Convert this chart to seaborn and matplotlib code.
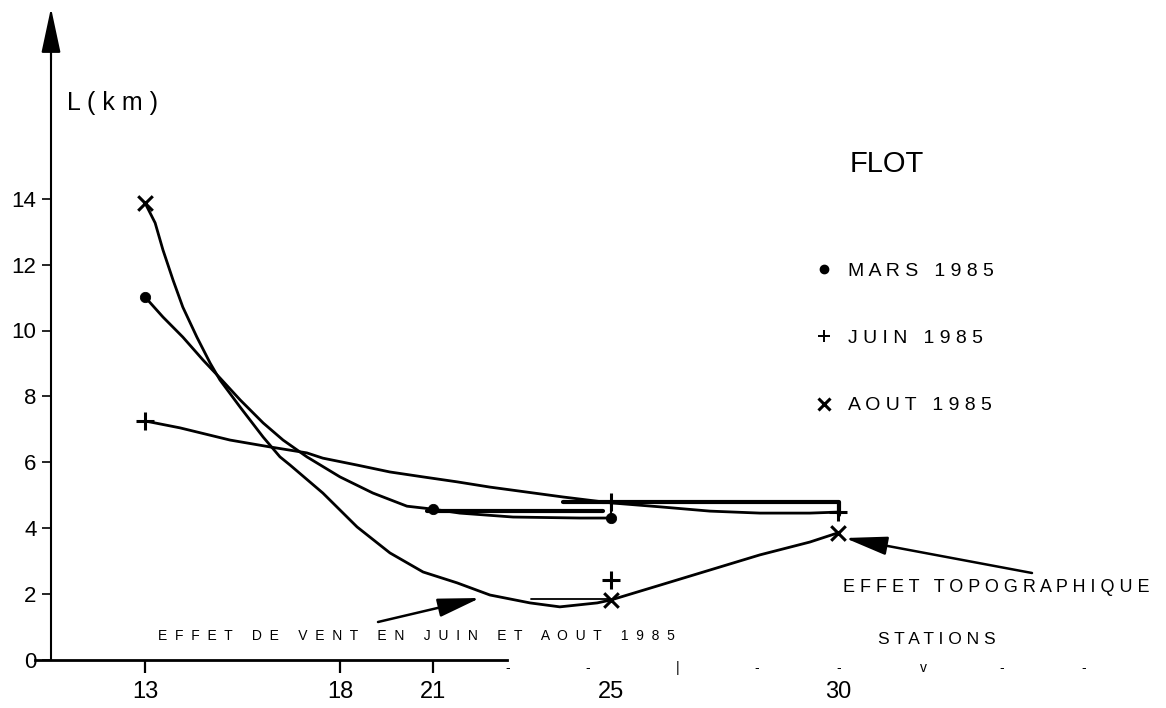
import numpy as np
import pandas as pd
import seaborn as sns
import matplotlib.pyplot as plt
from matplotlib.lines import Line2D

# ================= données =================
STATIONS = [13, 18, 21, 25, 30]
STATION_LABELS = ["13", "18", "21", "25", "30"]
Y_TICKS = [0, 2, 4, 6, 8, 10, 12, 14]

# points mesurés (FLOT)
MARS_ST = [13, 21, 25]
MARS_L = [11.02, 4.57, 4.3]
JUIN_ST = [13, 25, 30]
JUIN_L = [7.25, 4.79, 4.48]
JUIN_VENT_ST = [25]
JUIN_VENT_L = [2.42]
AOUT_ST = [13, 25, 30]
AOUT_L = [13.88, 1.81, 3.85]

# courbes tracées à la main (relevées le long du trait)
MARS_TRACE_ST = [13, 13.46, 13.97, 14.49, 14.92, 15.44, 16.03, 16.54, 17.15, 18.0,
                 19.06, 20.16, 21.0, 21.6, 22.8, 24.3, 25]
MARS_TRACE_L = [11.02, 10.41, 9.80, 9.10, 8.56, 7.89, 7.19, 6.67, 6.16, 5.55,
                5.06, 4.66, 4.57, 4.45, 4.33, 4.30, 4.30]
JUIN_TRACE_ST = [13, 13.90, 15.18, 16.21, 17.15, 17.56, 18.55, 19.61, 20.68, 21.54,
                 22.28, 23.92, 25, 26.08, 27.18, 28.28, 29.38, 30]
JUIN_TRACE_L = [7.25, 7.04, 6.67, 6.46, 6.28, 6.12, 5.91, 5.70, 5.55, 5.40,
                5.24, 4.94, 4.76, 4.64, 4.51, 4.45, 4.45, 4.48]
AOUT_TRACE_ST = [13, 13.26, 13.46, 13.72, 13.97, 14.33, 14.67, 14.92, 15.44, 16.03,
                 16.46, 16.72, 17.56, 18.55, 19.61, 20.68, 21.54, 22.28, 23.18, 23.85,
                 24.69, 25, 26.08, 27.18, 28.28, 29.38, 30]
AOUT_TRACE_L = [13.88, 13.27, 12.45, 11.53, 10.71, 9.80, 9.01, 8.50, 7.67, 6.76,
                6.16, 5.91, 5.06, 4.03, 3.24, 2.66, 2.33, 1.96, 1.72, 1.60,
                1.72, 1.81, 2.26, 2.72, 3.18, 3.57, 3.85]

# traits de reprise (crochets) dessinés sur l'original
MARS_BAR_ST = [20.81, 24.82]
MARS_BAR_L = [4.51, 4.51]
JUIN_BAR_ST = [23.92, 30.02, 30.02]
JUIN_BAR_L = [4.78, 4.78, 4.40]
JUIN_TICK_ST = [25, 25]
JUIN_TICK_L = [4.79, 4.30]
AOUT_BAR_ST = [23.2, 25]
AOUT_BAR_L = [1.84, 1.84]

LEGEND_LABELS = ["MARS 1985", "JUIN 1985", "AOUT 1985"]

# ================= mise en page =================
W, H = 1166, 708
# échelle des stations telle que dessinée (axe non proportionnel)
AXIS_PX = [145, 340, 433, 611, 838]
Y0_PX, PX_PER_KM = 659.5, 32.9


def fwd(s):
    s = np.asarray(s, dtype=float)
    out = np.interp(s, STATIONS, AXIS_PX)
    k0 = (AXIS_PX[1] - AXIS_PX[0]) / (STATIONS[1] - STATIONS[0])
    k1 = (AXIS_PX[-1] - AXIS_PX[-2]) / (STATIONS[-1] - STATIONS[-2])
    out = np.where(s < STATIONS[0], AXIS_PX[0] + (s - STATIONS[0]) * k0, out)
    out = np.where(s > STATIONS[-1], AXIS_PX[-1] + (s - STATIONS[-1]) * k1, out)
    return out


def inv(p):
    p = np.asarray(p, dtype=float)
    out = np.interp(p, AXIS_PX, STATIONS)
    k0 = (AXIS_PX[1] - AXIS_PX[0]) / (STATIONS[1] - STATIONS[0])
    k1 = (AXIS_PX[-1] - AXIS_PX[-2]) / (STATIONS[-1] - STATIONS[-2])
    out = np.where(p < AXIS_PX[0], STATIONS[0] + (p - AXIS_PX[0]) / k0, out)
    out = np.where(p > AXIS_PX[-1], STATIONS[-1] + (p - AXIS_PX[-1]) / k1, out)
    return out


def py2km(py):
    return (Y0_PX - py) / PX_PER_KM


def fig_xy(x, y):
    # pixels (origine en haut à gauche) -> fraction de figure
    return x / W, 1 - y / H


def spaced(s, n=1):
    return (" " * n).join(s)


sns.set_style("white", {"axes.edgecolor": "black", "xtick.color": "black",
                        "ytick.color": "black", "text.color": "black"})
plt.rcParams['font.family'] = ['Liberation Sans', 'DejaVu Sans']

fig = plt.figure(figsize=(W / 100, H / 100), dpi=100)
ax = fig.add_axes([0, 0, 1, 1])
ax.set_facecolor("white")
ax.set_xscale("function", functions=(fwd, inv))
ax.set_xlim(float(inv(0)), float(inv(W)))
ax.set_ylim(py2km(H), py2km(0))

# courbes
for st, l in [(MARS_TRACE_ST, MARS_TRACE_L), (JUIN_TRACE_ST, JUIN_TRACE_L),
              (AOUT_TRACE_ST, AOUT_TRACE_L)]:
    sns.lineplot(x=st, y=l, ax=ax, color="black", lw=2.0, sort=False,
                 estimator=None, legend=False)

# crochets
for st, l, w in [(MARS_BAR_ST, MARS_BAR_L, 3.0), (JUIN_BAR_ST, JUIN_BAR_L, 3.0),
                 (JUIN_TICK_ST, JUIN_TICK_L, 1.5), (AOUT_BAR_ST, AOUT_BAR_L, 1.3)]:
    sns.lineplot(x=st, y=l, ax=ax, color="black", lw=w, sort=False,
                 estimator=None, legend=False)

# points
sns.scatterplot(x=MARS_ST, y=MARS_L, ax=ax, marker="o", s=55, color="black",
                edgecolor="black", legend=False, zorder=5)
sns.scatterplot(x=JUIN_ST + JUIN_VENT_ST, y=JUIN_L + JUIN_VENT_L, ax=ax, marker="+",
                s=170, color="black", linewidth=2.2, legend=False, zorder=5)
sns.scatterplot(x=AOUT_ST, y=AOUT_L, ax=ax, marker="x", s=110, color="black",
                linewidth=2.2, legend=False, zorder=5)

# axes
yaxis_st = float(inv(51))
for side in ["top", "right"]:
    ax.spines[side].set_visible(False)
ax.spines["left"].set_position(("data", yaxis_st))
ax.spines["left"].set_bounds(0, py2km(40))
ax.spines["left"].set_linewidth(1.5)
ax.spines["bottom"].set_position(("data", 0))
ax.spines["bottom"].set_bounds(float(inv(35)), float(inv(507)))
ax.spines["bottom"].set_linewidth(2.0)

ax.set_yticks(Y_TICKS)
ax.set_yticklabels([str(v) for v in Y_TICKS])
ax.set_xticks(STATIONS)
ax.set_xticklabels(STATION_LABELS)
ax.xaxis.set_minor_locator(plt.NullLocator())
ax.tick_params(axis="y", left=True, direction="out", length=6.5, width=1.2,
               pad=4, labelsize=16)
ax.tick_params(axis="x", bottom=True, direction="out", length=9.5, width=1.6,
               pad=6, labelsize=17)
for tick in ax.xaxis.get_major_ticks()[3:]:
    tick.tick1line.set_visible(False)

# flèche de l'axe des L
ax.annotate("", xy=(yaxis_st, py2km(8)), xytext=(yaxis_st, py2km(60)),
            arrowprops=dict(arrowstyle="-|>,head_length=1.4,head_width=0.3",
                            mutation_scale=20, lw=1.5, color="black",
                            shrinkA=0, shrinkB=0))

# textes
fig.text(*fig_xy(67, 103), spaced("L(km)"), fontsize=18, va="center", ha="left")
fig.text(*fig_xy(850, 164), "FLOT", fontsize=21, va="center", ha="left")
fig.text(*fig_xy(843, 587), spaced("EFFET TOPOGRAPHIQUE"), fontsize=13,
         va="center", ha="left")
fig.text(*fig_xy(878, 639), spaced("STATIONS"), fontsize=12.5, va="center", ha="left")
fig.text(*fig_xy(158, 636), spaced("EFFET DE VENT EN JUIN ET AOUT 1985", 2),
         fontsize=10, va="center", ha="left")

# petits traits du prolongement de l'axe (reproduits tels quels)
for x, c in zip([508, 588, 678, 757, 839, 923, 1002, 1084],
                ["-", "-", "|", "-", "-", "v", "-", "-"]):
    fig.text(*fig_xy(x, 668), c, fontsize=10, va="center", ha="center")

# flèches d'annotation
ax.annotate("", xy=fig_xy(480, 598), xytext=fig_xy(378, 622),
            xycoords="figure fraction", textcoords="figure fraction",
            arrowprops=dict(arrowstyle="-|>,head_length=1.0,head_width=0.22",
                            mutation_scale=26, lw=1.8, color="black",
                            shrinkA=0, shrinkB=0))
ax.annotate("", xy=fig_xy(845, 538), xytext=fig_xy(1032, 573),
            xycoords="figure fraction", textcoords="figure fraction",
            arrowprops=dict(arrowstyle="-|>,head_length=1.0,head_width=0.22",
                            mutation_scale=26, lw=1.8, color="black",
                            shrinkA=0, shrinkB=0))

# légende
handles = [
    Line2D([], [], ls="none", marker="o", ms=6, color="black"),
    Line2D([], [], ls="none", marker="+", ms=9, mew=1.4, color="black"),
    Line2D([], [], ls="none", marker="x", ms=8, mew=2.2, color="black"),
]
ax.legend(handles, [spaced(t) for t in LEGEND_LABELS], loc="upper left",
          bbox_to_anchor=fig_xy(814, 262), bbox_transform=fig.transFigure,
          frameon=False, fontsize=14, handlelength=1.0, handletextpad=0.75,
          labelspacing=2.56, borderpad=0, borderaxespad=0)

fig.savefig("out.png", dpi=100)
